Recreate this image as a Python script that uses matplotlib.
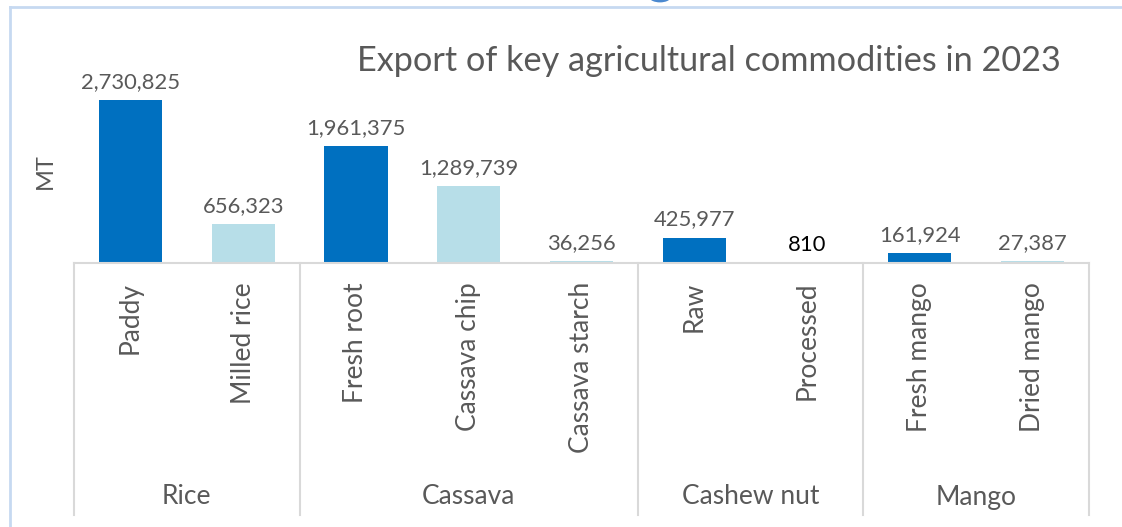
import matplotlib.pyplot as plt
from matplotlib.patches import Circle
from matplotlib.lines import Line2D

plt.rcParams['font.family'] = ['Lato', 'DejaVu Sans']

# data
products = ["Paddy", "Milled rice", "Fresh root", "Cassava chip", "Cassava starch",
            "Raw", "Processed", "Fresh mango", "Dried mango"]
values = [2730825, 656323, 1961375, 1289739, 36256, 425977, 810, 161924, 27387]
groups = ["Rice", "Cassava", "Cashew nut", "Mango"]
group_sizes = [2, 3, 2, 2]

DARK = "#0070C0"
LIGHT = "#B7DEE8"
TXT = "#595959"
bar_colors = [DARK, LIGHT, DARK, LIGHT, LIGHT, DARK, LIGHT, DARK, LIGHT]

W, H = 1122, 527
fig = plt.figure(figsize=(W / 100, H / 100), dpi=100)
fig.patch.set_facecolor("white")

# plot area in pixels: x 74..1089, baseline y=263, top (3M) y=84
x0, x1, ybase, ytop = 74, 1089, 263, 84
ax = fig.add_axes([x0 / W, (H - ybase) / H, (x1 - x0) / W, (ybase - ytop) / H])
ax.set_xlim(-0.5, len(products) - 0.5)
ax.set_ylim(0, 3000000)
ax.axis("off")

pos = list(range(len(products)))
ax.bar(pos, values, width=0.56, color=bar_colors, zorder=2)

for i, v in enumerate(values):
    col = "black" if v == 810 else TXT
    ax.annotate(f"{v:,}", (i, v), xytext=(0, 18), textcoords="offset pixels",
                ha="center", va="center", fontsize=15.8, color=col)

def frac(ypx):
    # pixel row -> axes fraction
    return (ybase - ypx) / (ybase - ytop)

tr = ax.get_xaxis_transform()
ax.plot([-0.5, len(products) - 0.5], [0, 0], transform=tr, color="#D9D9D9",
        lw=1.5, clip_on=False, zorder=3)

# group separators
edges = [-0.5]
for n in group_sizes:
    edges.append(edges[-1] + n)
for e in edges:
    ax.plot([e, e], [0, frac(515)], transform=tr, color="#D9D9D9", lw=1.5,
            clip_on=False)

for i, name in enumerate(products):
    ax.text(i, frac(282), name, transform=tr, rotation=90, ha="center", va="top",
            fontsize=19, color=TXT)

for g, name in enumerate(groups):
    mid = (edges[g] + edges[g + 1]) / 2
    ax.text(mid, frac(497), name, transform=tr, ha="center", va="center",
            fontsize=19, color=TXT)

fig.text(45 / W, 1 - 171 / H, "MT", rotation=90, ha="center", va="center",
         fontsize=17, color=TXT)
fig.text(709 / W, 1 - 61 / H, "Export of key agricultural commodities in 2023",
         ha="center", va="center", fontsize=24.7, color=TXT)

# chart frame (left and top edge visible) and selection handle
fig.add_artist(Line2D([10 / W, 10 / W], [0, 1 - 7 / H], color="#C6D9F1", lw=2))
fig.add_artist(Line2D([10 / W, 1], [1 - 7 / H, 1 - 7 / H], color="#C6D9F1", lw=2))
fig.add_artist(Circle((660 / W, 1 + 3 / H), 10 / W, color="#4A89D0",
                      transform=fig.transFigure))

fig.savefig("out.png", dpi=100)
